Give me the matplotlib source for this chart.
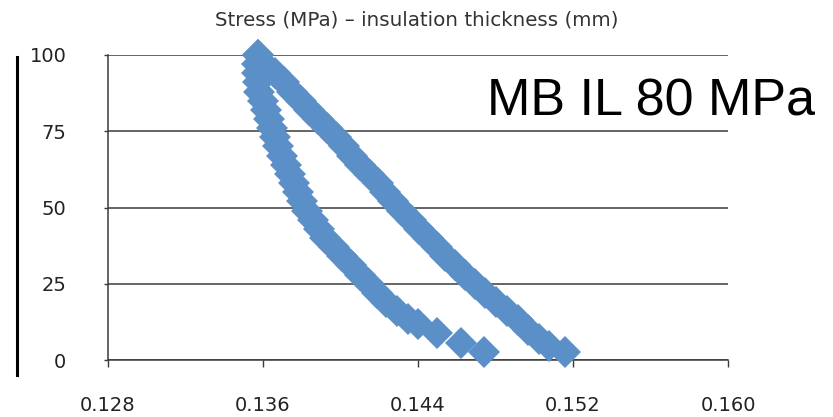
import matplotlib
matplotlib.use("Agg")
import matplotlib.pyplot as plt
from matplotlib.lines import Line2D

# Loading branch (stress increasing), thickness in mm, stress in MPa
load_stress = [2.6, 4.5, 7, 10, 13, 16, 19, 22, 25, 28, 31, 34, 37, 40, 43, 46,
               49, 52, 55, 58, 61, 64, 67, 70, 73, 76, 79, 82, 85, 88, 91, 94,
               97, 100]
load_thick = [0.15159, 0.15076, 0.15025, 0.14968, 0.14916, 0.14860, 0.14803,
              0.14746, 0.14694, 0.14643, 0.14591, 0.14539, 0.14498, 0.14452,
              0.14405, 0.14364, 0.14317, 0.14271, 0.14230, 0.14194, 0.14147,
              0.14101, 0.14059, 0.14018, 0.13977, 0.13930, 0.13884, 0.13837,
              0.13796, 0.13750, 0.13708, 0.13662, 0.13605, 0.13574]

# Unloading branch (stress decreasing)
unload_stress = [100, 97, 94, 91, 88, 85, 82, 79, 76, 73, 70, 67, 64, 61, 58,
                 55, 52, 49, 46, 43, 40, 37, 34, 31, 28, 25, 22, 19, 16, 13.5,
                 11.8, 8.9, 5.6, 2.6]
unload_thick = [0.13574, 0.13569, 0.13569, 0.13574, 0.13579, 0.13600, 0.13615,
                0.13631, 0.13646, 0.13662, 0.13677, 0.13698, 0.13719, 0.13739,
                0.13760, 0.13781, 0.13801, 0.13827, 0.13858, 0.13889, 0.13920,
                0.13966, 0.14008, 0.14054, 0.14101, 0.14147, 0.14188, 0.14235,
                0.14292, 0.14349, 0.14400, 0.14498, 0.14622, 0.14741]

x_ticks = [0.128, 0.136, 0.144, 0.152, 0.160]
x_labels = ["0.128", "0.136", "0.144", "0.152", "0.160"]
y_ticks = [0, 25, 50, 75, 100]

title = "Stress (MPa) \u2013 insulation thickness (mm)"
annotation = "MB IL 80 MPa"

W, H = 833, 417
fig = plt.figure(figsize=(W / 100, H / 100), dpi=100)
ax = fig.add_axes([108 / W, 1 - 360 / H, 620 / W, 305 / H])

color = "#5b8fc8"
for xs, ys in [(load_thick, load_stress), (unload_thick, unload_stress)]:
    ax.plot(xs, ys, linestyle="none", marker="D", markersize=16,
            color=color, markeredgewidth=0, clip_on=False, zorder=3)

ax.set_xlim(0.128, 0.160)
ax.set_ylim(0, 100)
ax.set_xticks(x_ticks)
ax.set_xticklabels(x_labels)
ax.set_yticks(y_ticks)

for s in ["top", "right"]:
    ax.spines[s].set_visible(False)
for s in ["left", "bottom"]:
    ax.spines[s].set_color("#3a3a3a")
    ax.spines[s].set_linewidth(1.1)

ax.yaxis.grid(True, color="#3a3a3a", linewidth=1.1, zorder=1)
ax.set_axisbelow(True)
ax.tick_params(axis="y", length=3, width=1.0, color="#3a3a3a", pad=27,
               labelsize=14, labelcolor="#222222")
ax.tick_params(axis="x", length=5, width=1.0, color="#3a3a3a", pad=21,
               labelsize=14, labelcolor="#222222")

fig.text(417 / W, 1 - 20 / H, title, ha="center", va="center",
         fontsize=14.3, color="#333333")
fig.text(487 / W, 1 - 115 / H, annotation, ha="left", va="baseline",
         fontsize=37.5, family="Liberation Sans", color="black")

fig.add_artist(Line2D([17 / W, 17 / W], [1 - 57 / H, 1 - 375 / H],
                      color="black", linewidth=2.2))

fig.savefig("out.png", dpi=100)
